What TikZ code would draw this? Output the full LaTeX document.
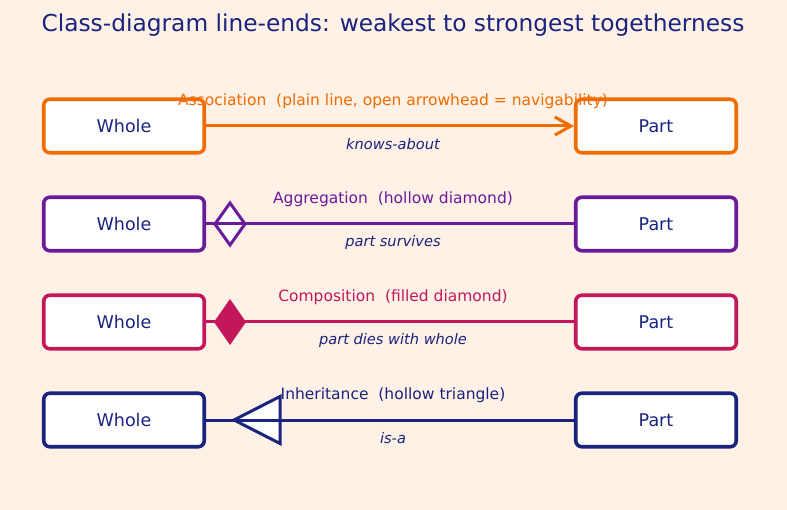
\documentclass[tikz,border=0pt]{standalone}
\usepackage{fontspec}
\setmainfont{DejaVu Sans}
\usetikzlibrary{arrows.meta}
\definecolor{bg}{HTML}{FFF1E6}
\definecolor{navy}{HTML}{1A237E}
\definecolor{corange}{HTML}{EF6C00}
\definecolor{cpurple}{HTML}{6A1B9A}
\definecolor{ccrimson}{HTML}{C2185B}
\begin{document}
\begin{tikzpicture}[x=1pt,y=-1pt,
  box/.style={draw=#1, line width=3.6pt, rounded corners=6pt, fill=white, minimum width=160.5pt, minimum height=53.5pt, inner sep=0pt, text=navy, font=\fontsize{17.5}{20}\selectfont},
  conn/.style={draw=#1, line width=3pt},
  toplab/.style={text=#1, font=\fontsize{15.5}{18}\selectfont},
  botlab/.style={text=navy, font=\fontsize{14.6}{17}\itshape\selectfont}]
\fill[bg] (0,0) rectangle (787,510);
\useasboundingbox (0,0) rectangle (787,510);
\node[text=navy, font=\fontsize{23.3}{28}\selectfont] (title) at (393,25) {Class-diagram line-ends: weakest to strongest togetherness};

% Row 1: association
\node[box=corange] (w1) at (124,126) {Whole};
\node[box=corange] (p1) at (656,126) {Part};
\draw[conn=corange, -{Straight Barb[length=16pt,width=18pt,line width=3pt]}] (w1.east) -- (p1.west);
\node[toplab=corange] (l1) at (393,101.5) {Association\ \ (plain line, open arrowhead = navigability)};
\node[botlab] (b1) at (393,144.5) {knows-about};

% Row 2: aggregation
\node[box=cpurple] (w2) at (124,224) {Whole};
\node[box=cpurple] (p2) at (656,224) {Part};
\draw[draw=cpurple, fill=white, line width=3pt, line join=miter] (215,224) -- (230,203) -- (245,224) -- (230,245) -- cycle;
\draw[conn=cpurple] (w2.east) -- (p2.west);
\node[toplab=cpurple] (l2) at (393,199.5) {Aggregation\ \ (hollow diamond)};
\node[botlab] (b2) at (393,242.5) {part survives};

% Row 3: composition
\node[box=ccrimson] (w3) at (124,322) {Whole};
\node[box=ccrimson] (p3) at (656,322) {Part};
\draw[conn=ccrimson] (w3.east) -- (p3.west);
\fill[ccrimson] (214,322) -- (230,299) -- (246,322) -- (230,345) -- cycle;
\node[toplab=ccrimson] (l3) at (393,297.5) {Composition\ \ (filled diamond)};
\node[botlab] (b3) at (393,340.5) {part dies with whole};

% Row 4: inheritance
\node[box=navy] (w4) at (124,420) {Whole};
\node[box=navy] (p4) at (656,420) {Part};
\draw[draw=navy, fill=white, line width=3pt, line join=miter] (234,420) -- (280,396.5) -- (280,443.5) -- cycle;
\draw[conn=navy] (w4.east) -- (p4.west);
\node[toplab=navy] (l4) at (393,395.5) {Inheritance\ \ (hollow triangle)};
\node[botlab] (b4) at (393,438.5) {is-a};
\end{tikzpicture}
\end{document}
